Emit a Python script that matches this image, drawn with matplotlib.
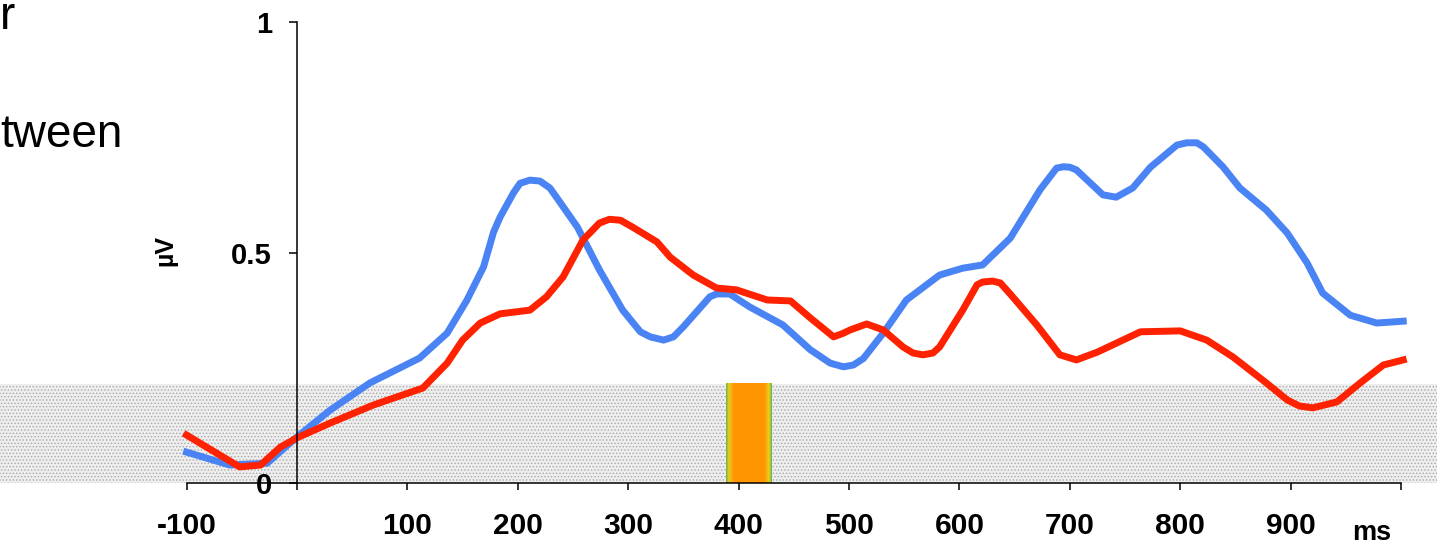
import numpy as np
import matplotlib
matplotlib.use('Agg')
import matplotlib.pyplot as plt
from matplotlib.colors import LinearSegmentedColormap

plt.rcParams['font.family'] = ['Liberation Sans', 'DejaVu Sans']
plt.rcParams['hatch.linewidth'] = 0.6

# Curve samples (time in ms, amplitude in µV)
blue_t = [-100, -61, -27, 0, 30, 66, 111, 136, 154, 169, 178, 184, 196, 202,
          211, 220, 229, 235, 254, 274, 295, 311, 320, 332, 341, 350, 374,
          380, 392, 410, 440, 465, 483, 495, 504, 513, 531, 552, 582, 603,
          621, 646, 673, 688, 694, 700, 706, 730, 742, 757, 773, 797, 806,
          815, 821, 839, 854, 878, 897, 915, 929, 954, 978, 1002]
blue_v = [0.067, 0.039, 0.043, 0.10, 0.158, 0.217, 0.271, 0.325, 0.397,
          0.469, 0.544, 0.577, 0.629, 0.65, 0.657, 0.655, 0.64, 0.62, 0.555,
          0.462, 0.375, 0.328, 0.317, 0.31, 0.317, 0.339, 0.404, 0.41, 0.41,
          0.382, 0.343, 0.289, 0.26, 0.252, 0.256, 0.27, 0.325, 0.397, 0.451,
          0.466, 0.473, 0.531, 0.636, 0.683, 0.686, 0.685, 0.679, 0.625,
          0.62, 0.64, 0.685, 0.733, 0.738, 0.738, 0.729, 0.685, 0.64, 0.592,
          0.542, 0.477, 0.412, 0.364, 0.347, 0.351]

red_t = [-100, -82, -52, -33, -15, 0, 30, 69, 114, 136, 150, 166, 184, 211,
         226, 241, 259, 274, 283, 293, 304, 326, 338, 359, 380, 398, 426, 447,
         465, 486, 495, 501, 516, 531, 549, 558, 567, 576, 582, 603, 616,
         621, 630, 637, 646, 670, 691, 706, 725, 764, 800, 824, 848, 878,
         897, 908, 920, 942, 963, 984, 1002]
red_v = [0.104, 0.078, 0.035, 0.039, 0.078, 0.098, 0.13, 0.169, 0.206, 0.26,
         0.31, 0.347, 0.367, 0.375, 0.404, 0.447, 0.527, 0.564, 0.572, 0.57,
         0.555, 0.523, 0.49, 0.451, 0.423, 0.419, 0.397, 0.395, 0.358,
         0.317, 0.325, 0.332, 0.345, 0.332, 0.295, 0.282, 0.278, 0.282,
         0.295, 0.375, 0.43, 0.436, 0.438, 0.434, 0.41, 0.343, 0.278, 0.267,
         0.284, 0.328, 0.33, 0.31, 0.273, 0.217, 0.18, 0.167, 0.163, 0.176,
         0.217, 0.256, 0.267]

# shaded non-significant zone and significant window
band_t = [-269, 1033]
band_top = 0.215
win_t = [389, 430]

xticks = list(range(-100, 1001, 100))
xlabels = ['' if v in (0, 1000) else str(v) for v in xticks]
yticks = [0, 0.5, 1]
ylabels = ['0', '0.5', '1']

fig = plt.figure(figsize=(14.42, 5.47), dpi=100)
ax = fig.add_axes([0, 0, 1, 1])
ax.set_xlim(-269.0, 1037.1)
ax.set_ylim(-0.1388, 1.0477)

# dotted gray band
ax.fill_between(band_t, 0, band_top, facecolor='#eeeeee', edgecolor='#a8a8a8',
                hatch='.....', linewidth=0, zorder=1)

# orange window with green/yellow edges
cmap = LinearSegmentedColormap.from_list(
    'win', [(0, '#6fb04a'), (0.06, '#e8d020'), (0.16, '#ff9500'),
            (0.84, '#ff9500'), (0.94, '#e8d020'), (1, '#6fb04a')])
grad = np.linspace(0, 1, 200).reshape(1, -1)
ax.imshow(grad, cmap=cmap, extent=[win_t[0], win_t[1], 0, band_top],
          aspect='auto', interpolation='bilinear', zorder=2)

ax.plot(blue_t, blue_v, color='#4a84f4', lw=5, zorder=3,
        solid_joinstyle='round')
ax.plot(red_t, red_v, color='#ff2200', lw=5, zorder=4,
        solid_joinstyle='round')

for s in ['top', 'right']:
    ax.spines[s].set_visible(False)
ax.spines['left'].set_position(('data', 0))
ax.spines['bottom'].set_position(('data', 0))
ax.spines['left'].set_bounds(0, 1)
ax.spines['bottom'].set_bounds(-100, 1000)
for s in ['left', 'bottom']:
    ax.spines[s].set_linewidth(1.1)
    ax.spines[s].set_zorder(5)

ax.set_xticks(xticks)
ax.set_xticklabels(xlabels, fontsize=21.5, fontweight='bold')
ax.set_yticks(yticks)
ax.set_yticklabels(ylabels, fontsize=21, fontweight='bold')
ax.tick_params(axis='x', direction='out', length=5, width=1.1, pad=16)
ax.tick_params(axis='y', direction='out', length=6, width=1.1, pad=12)

fig.text(1372 / 1442, 1 - 533 / 547, 'ms', fontsize=19.5, fontweight='bold',
         ha='center', va='center')
fig.text(165 / 1442, 1 - 250 / 547, 'µV', fontsize=18, fontweight='bold',
         rotation=90, ha='center', va='center')

# cropped slide text on the left
fig.text(0, 1 - 29 / 547, 'r', fontsize=33, ha='left', va='baseline')
fig.text(0, 1 - 147 / 547, 'tween', fontsize=33, ha='left', va='baseline')

fig.savefig('out.png', dpi=100)
